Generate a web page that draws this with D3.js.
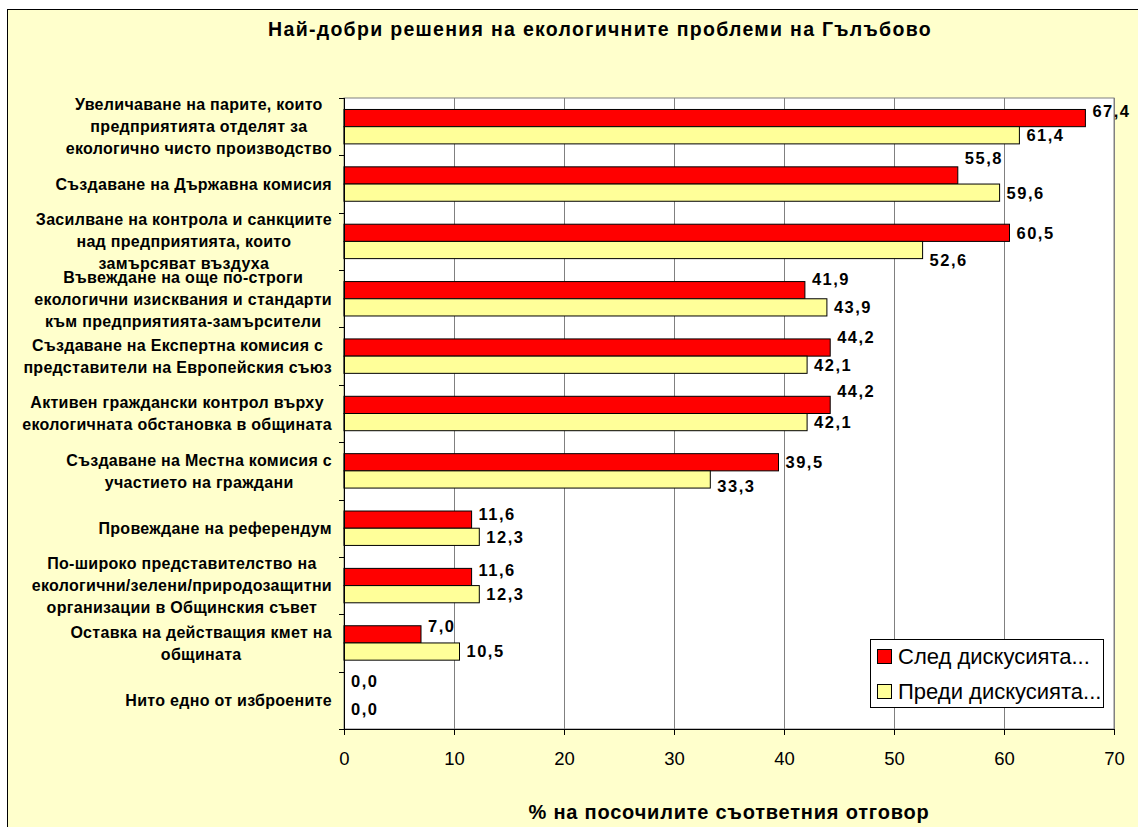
<!DOCTYPE html>
<html>
<head>
<meta charset="utf-8">
<script src="https://cdn.jsdelivr.net/npm/d3@7"></script>
<style>
  body { margin: 0; background: #fff; }
  svg { display: block; font-family: 'Liberation Sans', Arial, sans-serif; }
</style>
</head>
<body>
<svg id="chart" width="1138" height="827"></svg>
<script>
// categories, top to bottom (line breaks as wrapped in the original)
var categories = [
    'Увеличаване на парите, които\nпредприятията отделят за\nекологично чисто производство',
    'Създаване на Държавна комисия',
    'Засилване на контрола и санкциите\nнад предприятията, които\nзамърсяват въздуха',
    'Въвеждане на още по-строги\nекологични изисквания и стандарти\nкъм предприятията-замърсители',
    'Създаване на Експертна комисия с\nпредставители на Европейския съюз',
    'Активен граждански контрол върху\nекологичната обстановка в общината',
    'Създаване на Местна комисия с\nучастието на граждани',
    'Провеждане на референдум',
    'По-широко представителство на\nекологични/зелени/природозащитни\nорганизации в Общинския съвет',
    'Оставка на действащия кмет на\nобщината',
    'Нито едно от изброените'
];
var seriesNames = ['След дискусията...', 'Преди дискусията...'];
var afterValues = [67.4, 55.8, 60.5, 41.9, 44.2, 44.2, 39.5, 11.6, 11.6, 7.0, 0.0];
var beforeValues = [61.4, 59.6, 52.6, 43.9, 42.1, 42.1, 33.3, 12.3, 12.3, 10.5, 0.0];
var xTicks = [0, 10, 20, 30, 40, 50, 60, 70];

var title = 'Най-добри решения на екологичните проблеми на Гълъбово';
var xTitle = '% на посочилите съответния отговор';

// label nudges (vertical), as the labels sit in the original
var afterLabelDy = [-7, -17, 0, -11, -10, -14, 0, -6, -7, -8, -11];
var beforeLabelDy = [0, 0, 10, 0, 0, 0, 7, 0, 0, 0, 0];

var colors = ['#FF0000', '#FFFF99'];

var svg = d3.select('#chart');
var plot = {left: 344, right: 1114, top: 98, bottom: 729};

// chart area
svg.append('rect')
    .attr('x', 7.5).attr('y', 9.5)
    .attr('width', 1200).attr('height', 900)
    .attr('fill', '#FFFFCC')
    .attr('stroke', '#000');

svg.append('text')
    .attr('x', 600).attr('y', 36)
    .attr('text-anchor', 'middle')
    .attr('font-size', 19.5).attr('font-weight', 'bold')
    .attr('letter-spacing', 1.3)
    .text(title);

var x = d3.scaleLinear().domain([0, 70]).range([plot.left, plot.right]);
var y0 = d3.scaleBand().domain(d3.range(categories.length)).range([plot.top, plot.bottom]).padding(0);
var y1 = d3.scaleBand().domain([0, 1]).range([0, y0.bandwidth()]).paddingInner(0).paddingOuter(0.667);

// plot area
svg.append('rect')
    .attr('x', plot.left).attr('y', plot.top)
    .attr('width', plot.right - plot.left).attr('height', plot.bottom - plot.top)
    .attr('fill', '#fff')
    .attr('stroke', '#808080');

svg.append('g')
    .selectAll('line')
    .data(xTicks.slice(1))
    .enter().append('line')
    .attr('x1', function(d) { return Math.round(x(d)) + 0.5; })
    .attr('x2', function(d) { return Math.round(x(d)) + 0.5; })
    .attr('y1', plot.top).attr('y2', plot.bottom)
    .attr('stroke', '#808080');

var rows = categories.map(function(c, i) {
    return {i: i, values: [afterValues[i], beforeValues[i]], dy: [afterLabelDy[i], beforeLabelDy[i]]};
});

var groups = svg.append('g')
    .selectAll('g')
    .data(rows)
    .enter().append('g')
    .attr('transform', function(d) { return 'translate(0,' + y0(d.i) + ')'; });

groups.selectAll('rect')
    .data(function(d) {
        return d.values.map(function(v, k) { return {k: k, value: v}; });
    })
    .enter().append('rect')
    .filter(function(d) { return d.value > 0; })
    .attr('x', x(0))
    .attr('y', function(d) { return y1(d.k); })
    .attr('width', function(d) { return x(d.value) - x(0); })
    .attr('height', y1.bandwidth())
    .attr('fill', function(d) { return colors[d.k]; })
    .attr('stroke', '#000')
    .attr('stroke-width', 1);

groups.selectAll('text.val')
    .data(function(d) {
        return d.values.map(function(v, k) { return {k: k, value: v, dy: d.dy[k]}; });
    })
    .enter().append('text')
    .attr('class', 'val')
    .attr('x', function(d) { return x(d.value) + 7; })
    .attr('y', function(d) { return y1(d.k) + y1.bandwidth() / 2 + d.dy; })
    .attr('dy', '0.36em')
    .attr('font-size', 16.5).attr('font-weight', 'bold')
    .attr('letter-spacing', 1.5)
    .text(function(d) { return d3.format('.1f')(d.value).replace('.', ','); });

// axes
var xAxis = svg.append('g')
    .attr('transform', 'translate(0,' + plot.bottom + ')')
    .call(d3.axisBottom(x).tickValues(xTicks).tickSize(6).tickPadding(17).tickFormat(d3.format('d')));
xAxis.select('.domain').attr('stroke', '#000');
xAxis.selectAll('text').attr('font-size', 18.5).attr('font-family', 'Liberation Sans, Arial, sans-serif').attr('fill', '#000');

var yAxis = svg.append('g');
yAxis.append('line')
    .attr('x1', plot.left + 0.5).attr('x2', plot.left + 0.5)
    .attr('y1', plot.top).attr('y2', plot.bottom)
    .attr('stroke', '#000');
yAxis.selectAll('line.tick')
    .data(d3.range(categories.length + 1))
    .enter().append('line')
    .attr('class', 'tick')
    .attr('x1', plot.left - 5).attr('x2', plot.left)
    .attr('y1', function(i) { return Math.round(plot.top + i * y0.step()) + 0.5; })
    .attr('y2', function(i) { return Math.round(plot.top + i * y0.step()) + 0.5; })
    .attr('stroke', '#000');

// category labels: block right-aligned to the axis, lines centred in the block
var lineH = 22;
var labels = svg.append('g')
    .attr('font-size', 16).attr('font-weight', 'bold');
categories.forEach(function(c, i) {
    var lines = c.split('\n');
    var g = labels.append('g');
    var texts = g.selectAll('text')
        .data(lines)
        .enter().append('text')
        .attr('y', function(d, j) {
            return y0(i) + y0.bandwidth() / 2 + (j - (lines.length - 1) / 2) * lineH;
        })
        .attr('dy', '0.36em')
        .attr('text-anchor', 'middle')
        .attr('letter-spacing', 0.3)
        .text(function(d) { return d; });
    var w = 0;
    texts.each(function() { w = Math.max(w, this.getComputedTextLength()); });
    texts.attr('x', plot.left - 12 - w / 2);
});

svg.append('text')
    .attr('x', (plot.left + plot.right) / 2).attr('y', 819)
    .attr('text-anchor', 'middle')
    .attr('font-size', 20).attr('font-weight', 'bold')
    .attr('letter-spacing', 0.8)
    .text(xTitle);

// legend
var legend = svg.append('g').attr('transform', 'translate(870,639)');
legend.append('rect')
    .attr('x', 0.5).attr('y', 0.5)
    .attr('width', 233).attr('height', 68)
    .attr('fill', '#fff').attr('stroke', '#000');
var items = legend.selectAll('g.item')
    .data(seriesNames)
    .enter().append('g')
    .attr('class', 'item')
    .attr('transform', function(d, i) { return 'translate(0,' + (17 + i * 35) + ')'; });
items.append('rect')
    .attr('x', 7.5).attr('y', -6.5)
    .attr('width', 14).attr('height', 14)
    .attr('fill', function(d, i) { return colors[i]; })
    .attr('stroke', '#000');
items.append('text')
    .attr('x', 28).attr('y', 0)
    .attr('dy', '0.36em')
    .attr('font-size', 22)
    .text(function(d) { return d; });
</script>
</body>
</html>
